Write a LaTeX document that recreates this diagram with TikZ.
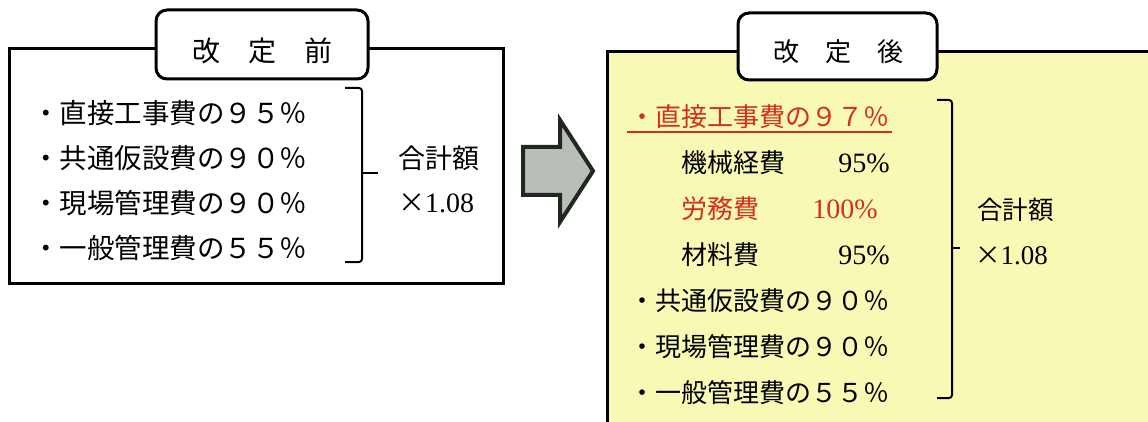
\documentclass[tikz,border=0pt]{standalone}
\usepackage{fontspec}
\setmainfont{Liberation Serif}
\newfontfamily\jp{Noto Sans CJK JP}
\usepackage{xcolor}
\usepackage{tikz}
\definecolor{kaiteiyellow}{RGB}{248,249,180}
\definecolor{kaiteired}{RGB}{212,46,28}
\definecolor{arrowgray}{RGB}{186,190,184}
\tikzset{
  frame/.style={draw=black,line width=3pt},
  titlebox/.style={draw=black,line width=3pt,fill=white,rounded corners=11pt},
  titletext/.style={inner sep=0pt,font=\jp\fontsize{28}{30}\selectfont},
  itemL/.style={anchor=west,inner sep=0pt,font=\jp\fontsize{27.5}{30}\selectfont},
  itemR/.style={anchor=west,inner sep=0pt,font=\jp\fontsize{26}{28}\selectfont},
  pct/.style={anchor=east,inner sep=0pt,font=\fontsize{28}{30}\selectfont},
  sumtext/.style={anchor=west,inner sep=0pt,font=\jp\fontsize{27}{30}\selectfont},
  brace/.style={draw=black,line width=2pt,rounded corners=3pt}
}

\begin{document}
\begin{tikzpicture} [x=1pt,y=-1pt]

\clip (0,0) rectangle (1148,422);
\fill[white] (0,0) rectangle (1148,422);

% before
\draw[frame] (9,49) rectangle (503,283);
\draw[titlebox] (156,10) rectangle (368,79);
\node[titletext] (tbefore) at (262,51) {改　定　前};

\node[itemL] (l1) at (32,113) {・直接工事費の９５％};
\node[itemL] (l2) at (32,158) {・共通仮設費の９０％};
\node[itemL] (l3) at (32,203) {・現場管理費の９０％};
\node[itemL] (l4) at (32,248) {・一般管理費の５５％};

\coordinate (lb1) at (345,88);
\coordinate (lb2) at (362,88);
\coordinate (lb3) at (362,262);
\coordinate (lb4) at (345,262);
\coordinate (lb5) at (362,173);
\coordinate (lb6) at (378,173);
\draw[brace] (lb1)--(lb2)--(lb3)--(lb4);
\draw[brace,rounded corners=0pt] (lb5)--(lb6);

\node[sumtext] (lsum) at (398,158) {合計額};
\node[sumtext] (lrate) at (398,203) {×{\rmfamily\fontsize{28}{30}\selectfont 1.08}};

% arrow
\draw[draw={rgb,255:red,32;green,40;blue,32},line width=4pt,fill=arrowgray,line join=miter]
  (523,147)--(560,147)--(560,120)--(593,171)--(560,222)--(560,195)--(523,195)--cycle;

% after
\draw[frame,fill=kaiteiyellow] (607,52) rectangle (1170,440);
\draw[titlebox] (738,13) rectangle (937,80);
\node[titletext,font=\jp\fontsize{26}{28}\selectfont] (tafter) at (838,52) {改　定　後};

\node[itemR,text=kaiteired] (r1) at (629,117) {・直接工事費の９７％};
\coordinate (u1) at (627,132);
\coordinate (u2) at (892,132);
\draw[kaiteired,line width=1.8pt] (u1)--(u2);
\node[itemR] (r2) at (681,163) {機械経費};
\node[pct] (p2) at (890,163) {95\%};
\node[itemR,text=kaiteired] (r3) at (681,209) {労務費};
\node[pct,text=kaiteired] (p3) at (878,209) {100\%};
\node[itemR] (r4) at (681,255) {材料費};
\node[pct] (p4) at (890,255) {95\%};
\node[itemR] (r5) at (629,301) {・共通仮設費の９０％};
\node[itemR] (r6) at (629,347) {・現場管理費の９０％};
\node[itemR] (r7) at (629,393) {・一般管理費の５５％};

\coordinate (rb1) at (937,100);
\coordinate (rb2) at (952,100);
\coordinate (rb3) at (952,398);
\coordinate (rb4) at (937,398);
\coordinate (rb5) at (952,248);
\coordinate (rb6) at (960,248);
\draw[brace] (rb1)--(rb2)--(rb3)--(rb4);
\draw[brace,rounded corners=0pt] (rb5)--(rb6);

\node[sumtext,font=\jp\fontsize{25.5}{28}\selectfont] (rsum) at (977,210) {合計額};
\node[sumtext,font=\jp\fontsize{25.5}{28}\selectfont] (rrate) at (975,256) {×{\rmfamily\fontsize{27}{29}\selectfont 1.08}};

\end{tikzpicture}
\end{document}
